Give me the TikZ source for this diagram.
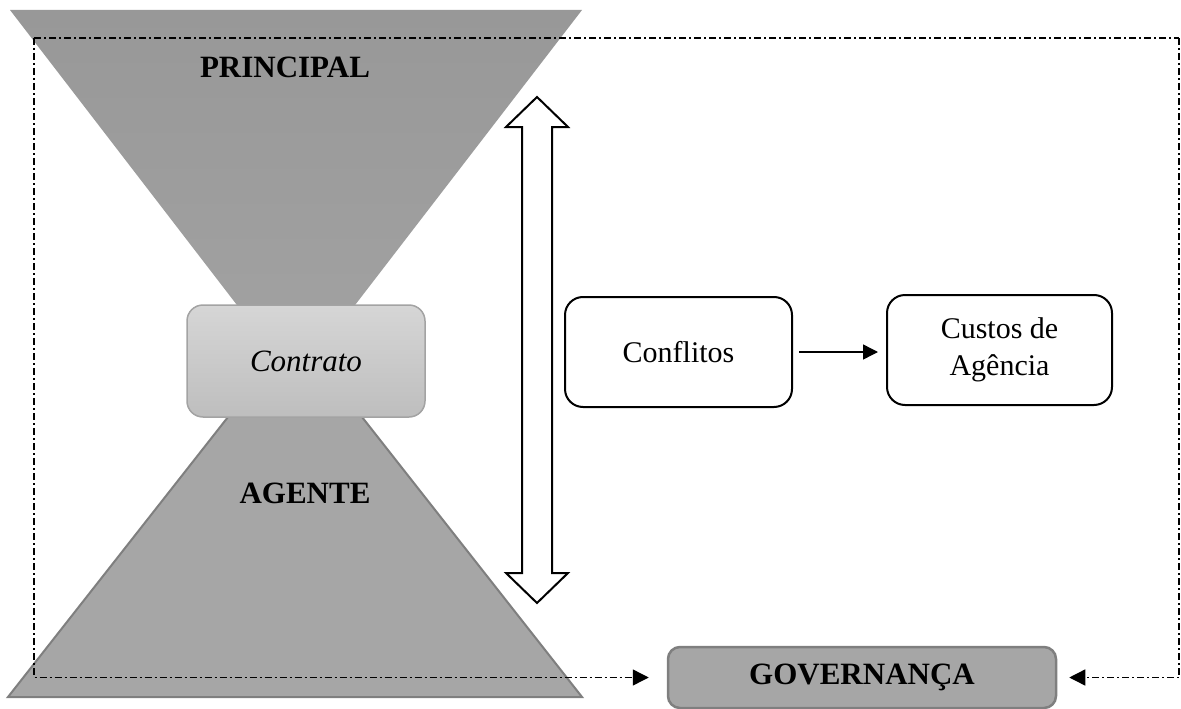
\documentclass[tikz,border=0pt]{standalone}
\usepackage{fontspec}
\setmainfont{Liberation Serif}
\usetikzlibrary{arrows.meta,calc}
\definecolor{topgray}{HTML}{989898}
\definecolor{topgrayb}{HTML}{A2A2A2}
\definecolor{botgray}{HTML}{A6A6A6}
\definecolor{edgegray}{HTML}{7F7F7F}
\definecolor{ctop}{HTML}{D6D6D6}
\definecolor{cbot}{HTML}{BEBEBE}
\definecolor{cedge}{HTML}{A3A3A3}
\begin{document}
\begin{tikzpicture}[x=1pt,y=-1pt,
  whitebox/.style={draw=black,line width=2pt,rounded corners=18pt,fill=white,
     align=center,font=\fontsize{30}{37}\selectfont},
  govbox/.style={draw=edgegray,line width=2.5pt,rounded corners=12pt,fill=botgray,
     font=\fontsize{31}{36}\selectfont\bfseries},
  contbox/.style={draw=cedge,line width=1.5pt,rounded corners=16pt,top color=ctop,bottom color=cbot,
     font=\fontsize{31}{36}\selectfont\itshape},
  lbl/.style={font=\fontsize{31}{36}\selectfont\bfseries},
  dd/.style={line width=1.4pt,dash pattern=on 7pt off 3pt on 2pt off 3pt},
  tip/.style={-{Triangle[length=16pt,width=16pt]}},
  solidarrow/.style={line width=1.4pt,-{Triangle[length=15pt,width=15pt]}}
]
\useasboundingbox (0,0) rectangle (1181,709);
% hourglass
\shade[top color=topgray,bottom color=topgrayb] (10,10) -- (582,10) -- (312,361) -- (280,361) -- cycle;
\draw[fill=botgray,draw=edgegray,line width=2pt] (8,697) -- (582,697) -- (318,361) -- (272,361) -- cycle;
\node[lbl] (princ) at (285,67) {PRINCIPAL};
\node[lbl] (agent) at (305,493) {AGENTE};
\node[contbox,minimum width=238pt,minimum height=112pt] (contr) at (306,361) {Contrato};
% double arrow
\draw[line width=2pt,fill=white,miter limit=10] (537,97) -- (568,127) -- (552,127) -- (552,573) -- (568,573)
  -- (537,603) -- (506,573) -- (522,573) -- (522,127) -- (506,127) -- cycle;
% boxes
\node[whitebox,minimum width=227pt,minimum height=110pt] (conf) at (678.5,352) {Conflitos};
\node[whitebox,minimum width=225pt,minimum height=110pt] (cust) at (999.5,350) {Custos de\\Agência};
\draw[solidarrow,shorten <=6pt,shorten >=8pt] (conf.east) -- (conf.east -| cust.west);
\node[govbox,minimum width=388pt,minimum height=61pt] (gov) at (862,677.5) {GOVERNANÇA};
% dash-dot feedback lines
\coordinate (tl) at (34,38);
\coordinate (tr) at (1179,38);
\draw[dd] (tl) -- (tr);
\draw[dd,tip,shorten >=18pt] (tl) |- (gov.west);
\draw[dd,tip,shorten >=12pt] (tr) |- (gov.east);
\end{tikzpicture}
\end{document}
